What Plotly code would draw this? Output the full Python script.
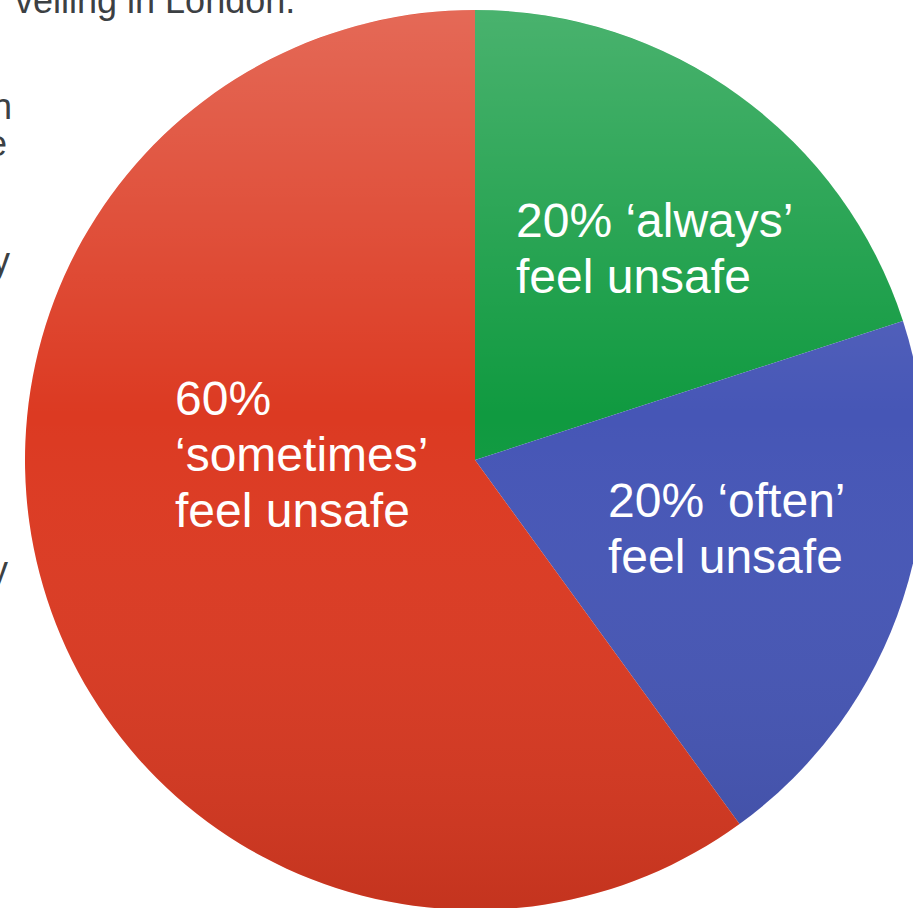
import base64
import plotly.graph_objects as go

# ---- data ----
categories = ["always", "often", "sometimes"]
values = [20, 20, 60]
slice_colors = ["#109a40", "#4656b6", "#dc3a22"]

label_lines = [
    ["20% \u2018always\u2019", "feel unsafe"],
    ["20% \u2018often\u2019", "feel unsafe"],
    ["60%", "\u2018sometimes\u2019", "feel unsafe"],
]

# fragments of the slide text that peek out behind the pie
bg_text = ["velling in London.", "n", "e", "y", "y"]

# ---- layout geometry (pixels) ----
W, H = 925, 910
pie_left, pie_top, pie_size = 25, 10, 900

def px(x):
    return x / W

def py(y):
    return 1 - y / H

fig = go.Figure()
fig.add_trace(go.Pie(
    labels=categories,
    values=values,
    sort=False,
    direction="clockwise",
    rotation=0,
    marker=dict(colors=slice_colors, line=dict(width=0)),
    textinfo="none",
    hoverinfo="label+percent",
    showlegend=False,
    domain=dict(x=[px(pie_left), px(pie_left + pie_size)],
                y=[py(pie_top + pie_size), py(pie_top)]),
))

# gradient shading overlay (lighter at top, darker at bottom)
svg = (
    '<svg xmlns="http://www.w3.org/2000/svg" viewBox="0 0 100 100" width="900" height="900">'
    '<defs><linearGradient id="g" x1="0" y1="0" x2="0" y2="1">'
    '<stop offset="0" stop-color="#ffffff" stop-opacity="0.24"/>'
    '<stop offset="0.45" stop-color="#ffffff" stop-opacity="0.0"/>'
    '<stop offset="1" stop-color="#000000" stop-opacity="0.11"/>'
    '</linearGradient></defs>'
    '<circle cx="50" cy="50" r="50" fill="url(#g)"/></svg>'
)
src = "data:image/svg+xml;base64," + base64.b64encode(svg.encode()).decode()
fig.add_layout_image(dict(
    source=src, xref="paper", yref="paper",
    x=px(pie_left), y=py(pie_top), sizex=pie_size / W, sizey=pie_size / H,
    xanchor="left", yanchor="top", sizing="stretch", layer="above", opacity=1,
))

font_lbl = dict(family="Liberation Sans, Arial, sans-serif", size=48, color="white")
label_pos = [(514, 236), (606, 516), (173, 414)]  # left x, first baseline y
line_gap = 56
for lines, (lx, by) in zip(label_lines, label_pos):
    for i, t in enumerate(lines):
        b = by + i * line_gap
        fig.add_annotation(
            x=px(lx), y=py(b - 16), xref="paper", yref="paper",
            text=t, showarrow=False, xanchor="left", yanchor="middle",
            font=font_lbl,
        )

font_bg = dict(family="Liberation Sans, Arial, sans-serif", size=36, color="#3c4043")
bg_pos = [(297, 12), (14, 118), (9, 155), (12, 272), (10, 581)]  # right x, baseline y
for t, (rx, by) in zip(bg_text, bg_pos):
    fig.add_annotation(
        x=px(rx), y=py(by - 12), xref="paper", yref="paper",
        text=t, showarrow=False, xanchor="right", yanchor="middle",
        font=font_bg,
    )

fig.update_layout(
    width=W, height=H,
    margin=dict(l=0, r=0, t=0, b=0, pad=0),
    paper_bgcolor="white", plot_bgcolor="white",
)

fig.write_html(
    "out.html",
    post_script="document.documentElement.style.overflow='hidden';document.body.style.overflow='hidden';",
)
